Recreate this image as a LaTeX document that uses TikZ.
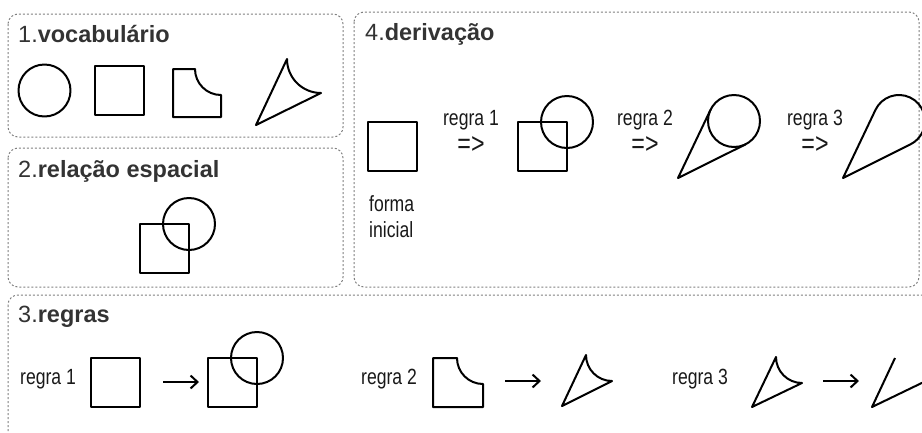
\documentclass[tikz,border=0pt]{standalone}
\usepackage{fontspec}
\setmainfont{Liberation Sans}
\newfontfamily\labelfont{Liberation Sans}[FakeStretch=0.8]
\usetikzlibrary{arrows.meta}
\begin{document}
\begin{tikzpicture}[x=1pt, y=1pt, yscale=-1,
  panel/.style={draw=black!50, line width=1pt, dash pattern=on 2pt off 2pt, rounded corners=10pt},
  shp/.style={draw=black, line width=2pt, line join=round},
  title/.style={anchor=base west, inner sep=0pt, font=\fontsize{23.5}{27}\selectfont, text=black!80},
  lbl/.style={inner sep=0pt, font=\labelfont\fontsize{22}{25}\selectfont, text=black!90},
  imply/.style={lbl, font=\labelfont\fontsize{29}{29}\selectfont},
  rulearrow/.style={line width=2pt, -{Straight Barb[length=7pt, width=13pt]}}]
\clip (0,0) rectangle (922,432);

% panels
\draw[panel] (8,14) rectangle (343,137);
\draw[panel] (8,148) rectangle (343,287);
\draw[panel] (354,12) rectangle (919,287);
\draw[panel] (8,295) rectangle (940,450);

% titles
\node[title] (t1) at (18,42) {1.\textbf{vocabulário}};
\node[title] (t2) at (18,177) {2.\textbf{relação espacial}};
\node[title] (t4) at (365,40) {4.\textbf{derivação}};
\node[title] (t3) at (18,322) {3.\textbf{regras}};

% 1. vocabulary
\draw[shp] (44.5,90.5) circle[radius=26];
\draw[shp] (95,66) rectangle (144,115);
\draw[shp] (173,69) -- (195,69) arc[start angle=180, end angle=90, radius=26] -- (221,117) -- (173,117) -- cycle;
\draw[shp] (256,125) -- (287,59) arc[start angle=180, end angle=90, radius=34] -- cycle;

% 2. spatial relation
\draw[shp] (140,224) rectangle (189,273);
\draw[shp] (189,224) circle[radius=26];

% 4. derivation
\draw[shp] (368,122) rectangle (417,171);
\node[lbl, anchor=north west, align=left] (init) at (369,195) {forma\\[1pt]inicial};
\node[lbl, anchor=base] (d1) at (471,125) {regra 1};
\node[imply] (a1) at (471,145) {=>};
\draw[shp] (518,122) rectangle (567,171);
\draw[shp] (567,122) circle[radius=26];
\node[lbl, anchor=base] (d2) at (645,125) {regra 2};
\node[imply] (a2) at (645,145) {=>};
\draw[shp] (734,121) circle[radius=26];
\draw[shp] (710.5,109.8) -- (678,178) -- (745.7,144.3);
\node[lbl, anchor=base] (d3) at (815,125) {regra 3};
\node[imply] (a3) at (815,145) {=>};
\draw[shp] (875.5,109.8) arc[start angle=205.5, end angle=423.3, radius=26] -- (843,178) -- cycle;

% 3. rules
\node[lbl, anchor=base west] (r1) at (20,384) {regra 1};
\draw[shp] (91,358) rectangle (140,407);
\coordinate (r1s) at (163,382);
\coordinate (r1e) at (199,382);
\draw[rulearrow] (r1s) -- (r1e);
\draw[shp] (208,358) rectangle (257,407);
\draw[shp] (257,358) circle[radius=26];

\node[lbl, anchor=base west] (r2) at (361,384) {regra 2};
\draw[shp] (433,358) -- (457,358) arc[start angle=180, end angle=90, radius=26] -- (483,407) -- (433,407) -- cycle;
\coordinate (r2s) at (505,381);
\coordinate (r2e) at (541,381);
\draw[rulearrow] (r2s) -- (r2e);
\draw[shp] (562,406) -- (586,355) arc[start angle=180, end angle=90, radius=26] -- cycle;

\node[lbl, anchor=base west] (r3) at (672,384) {regra 3};
\draw[shp] (752,407) -- (776,357) arc[start angle=180, end angle=90, radius=26] -- cycle;
\coordinate (r3s) at (823,381);
\coordinate (r3e) at (859,381);
\draw[rulearrow] (r3s) -- (r3e);
\draw[shp] (895,358) -- (872,407) -- (930,379);
\end{tikzpicture}
\end{document}
